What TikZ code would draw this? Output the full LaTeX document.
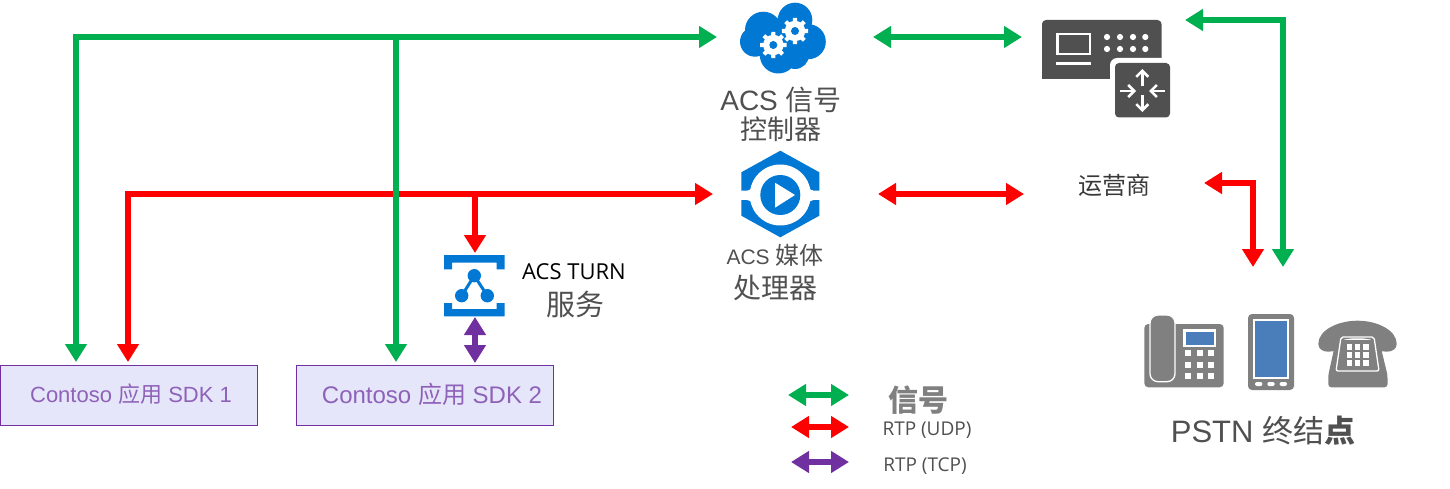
\documentclass[tikz,border=0pt]{standalone}
\usepackage{fontspec}
\usetikzlibrary{arrows.meta,calc}
\setmainfont{Liberation Sans}
\newfontfamily\cjk{Noto Sans CJK SC}
\newfontfamily\opensans{Open Sans}
\newcommand{\zh}[1]{{\cjk #1}}
\newcommand{\fsz}[1]{\fontsize{#1}{#1}\selectfont}
\definecolor{sigc}{HTML}{00B050}
\definecolor{udpc}{HTML}{FF0000}
\definecolor{tcpc}{HTML}{7030A0}
\definecolor{azure}{HTML}{0078D4}
\definecolor{darkic}{HTML}{505050}
\definecolor{greyic}{HTML}{808080}
\definecolor{bluescr}{HTML}{4A7EBB}
\definecolor{boxfill}{HTML}{E6E6FA}
\definecolor{boxtext}{HTML}{8E62B8}
\definecolor{txt}{HTML}{505050}
\tikzset{
  tipa/.tip={Triangle[width=21pt,length=18pt]},
  conn/.style={line width=6pt,line join=miter},
  both/.style={conn,tipa-tipa},
  one/.style={conn,-tipa},
  slot/.style={inner sep=0pt,outer sep=0pt,minimum height=10pt},
  appbox/.style={draw=tcpc,fill=boxfill,line width=1pt,inner sep=0pt,outer sep=0pt,minimum width=257pt,minimum height=60pt,text=boxtext},
  lbl/.style={inner sep=0pt,outer sep=0pt,text=txt,align=center},
  gearpic/.pic={
    \fill[white] (0,0) circle (10.2pt);
    \foreach \a in {0,45,...,315}{\fill[white,rotate=\a] (-2.6pt,0) -- (-2pt,13.2pt) -- (2pt,13.2pt) -- (2.6pt,0) -- cycle;}
    \fill[azure] (0,0) circle (4pt);
  }
}
\begin{document}
\begin{tikzpicture}[x=1pt,y=-1pt]
\useasboundingbox (0,0) rectangle (1450,489);
% anchor slots for connectors
\node[slot,minimum width=156pt] (ctrl) at (795,37) {};
\node[slot,minimum width=165pt] (media) at (795.5,194) {};
\node[slot,minimum width=163pt,minimum height=98pt] (router) at (1103.5,69) {};
\node[slot,minimum width=63pt,minimum height=64pt] (turn) at (475,285) {};
\node[appbox] (app1) at (128.5,395) {\hspace{5pt}\raisebox{3pt}{\fsz{22}Contoso \zh{应用} SDK 1}};
\node[appbox] (app2) at (424.5,395) {\hspace{15pt}\raisebox{3pt}{\fsz{24}Contoso \zh{应用} SDK 2}};
\coordinate (a1g) at (76,362);
\coordinate (a1r) at (128,362);
\coordinate (a2g) at (396,362);
\coordinate (a2p) at (475,363);
\coordinate (j1) at (396,37);
\coordinate (j2) at (475,194);
\coordinate (rttop) at (1185,20);
\coordinate (carL) at (1024,194);
\coordinate (carR) at (1204,183);
\coordinate (pstnR) at (1253,267);
\coordinate (pstnG) at (1283,267);
\coordinate (lg1a) at (788,395);\coordinate (lg1b) at (849,395);
\coordinate (lg2a) at (791,427);\coordinate (lg2b) at (849,427);
\coordinate (lg3a) at (791,462);\coordinate (lg3b) at (849,462);
% connectors
\draw[both,udpc] (media.west) -| (a1r);
\draw[one,udpc] (j2) -- (turn.north);
\draw[both,sigc] (ctrl.west) -| (a1g);
\draw[one,sigc] (j1) -- (a2g);
\draw[both,tcpc] (turn.south) -- (a2p);
\draw[both,sigc] (ctrl.east) -- (ctrl.east -| router.west);
\draw[both,udpc] (media.east) -- (carL);
\draw[both,sigc] (rttop) -| (pstnG);
\draw[both,udpc] (carR) -| (pstnR);
\draw[both,sigc] (lg1a) -- (lg1b);
\draw[both,udpc] (lg2a) -- (lg2b);
\draw[both,tcpc] (lg3a) -- (lg3b);
% cloud icon
\fill[azure] (763.3,30) circle (18.3) (795,20) circle (17.3) (808.3,41.7) circle (17.5)
  (778.3,55) circle (18.5) (795,55) circle (14) (755,41.7) circle (15) (780,38) circle (20);
\pic at (773.3,45) {gearpic};
\pic at (795,31) {gearpic};
% router icon
\fill[darkic,rounded corners=4pt] (1042,79) -- (1042,20) -- (1161.5,20) -- (1161.5,79) -- cycle;
\fill[darkic] (1042,72) rectangle (1060,79.3);
\draw[white,line width=2.5pt] (1057.5,34) rectangle (1090,54);
\fill[white] (1056,62) rectangle (1091,65);
\foreach \x in {1107,1120,1133,1145.3}{\foreach \y in {37,49}{\fill[white] (\x,\y) circle (3.1);}}
\fill[white,rounded corners=7pt] (1110,58) rectangle (1175,122);
\fill[darkic,rounded corners=4pt] (1115,63) rectangle (1170,117.5);
\begin{scope}[white,line width=2.6pt,arrows={-{Straight Barb[length=6pt,width=12pt]}}]
\draw (1142.3,86) -- (1142.3,69);
\draw (1142.3,95) -- (1142.3,112);
\draw (1120,91) -- (1136,91);
\draw (1165,91) -- (1149,91);
\end{scope}
% media icon
\fill[azure] (780.3,150.7) -- (819.3,172.3) -- (819.3,215.7) -- (780.3,237.3) -- (741.3,215.7) -- (741.3,172.3) -- cycle;
\fill[white] (780.3,195) circle (30.5);
\fill[white] (741,190.7) -- (747,190.7) .. controls (752,190.7) and (754,184) .. (757,176) -- (780,195) -- (757,214) .. controls (754,206) and (752,200) .. (747,200) -- (741,200) -- cycle;
\fill[white] (820,190.7) -- (813.6,190.7) .. controls (808.6,190.7) and (806.6,184) .. (803.6,176) -- (780.6,195) -- (803.6,214) .. controls (806.6,206) and (808.6,200) .. (813.6,200) -- (820,200) -- cycle;
\fill[azure] (780.3,195) circle (20);
\fill[white] (775,182.7) -- (795,195) -- (775,207.7) -- cycle;
% turn icon
\fill[azure] (444,255) rectangle (504.7,262.7) (444,255) rectangle (452,269.3) (496.7,255) rectangle (504.7,269.3);
\fill[azure] (444,309) rectangle (504.7,316.3) (444,303) rectangle (452,316.3) (496.7,303) rectangle (504.7,316.3);
\draw[azure,line width=3pt] (461.7,295.7) -- (474.3,275.7) -- (487.3,295.7);
\fill[azure] (474.3,275.7) circle (6.7) (461.7,295.7) circle (6.7) (487.3,295.7) circle (6.7);
% desk phone
\fill[greyic,rounded corners=4pt] (1144.3,324) rectangle (1223.7,387.3);
\draw[white,line width=1.3pt,fill=greyic,rounded corners=8pt] (1150,315) rectangle (1175,381.7);
\fill[white] (1183.3,329.3) rectangle (1216,346.7);
\fill[bluescr] (1185.5,331.5) rectangle (1213.8,344.5);
\foreach \x in {1188.3,1199.7,1211}{\foreach \y in {353.3,365,376}{\fill[white] (\x-3,\y-3) rectangle (\x+3,\y+3);}}
% mobile
\fill[greyic,rounded corners=4pt] (1248,314) rectangle (1294,390);
\fill[white] (1253,319) rectangle (1289,378.7);
\fill[bluescr] (1255,321) rectangle (1287,376.7);
\foreach \x in {1258.7,1271,1283.3}{\fill[white,rounded corners=2pt] (\x-3.7,382) rectangle (\x+3.7,386);}
% rotary phone
\fill[greyic] (1318.3,344) .. controls (1318.3,330) and (1338,320.7) .. (1357.5,320.7) .. controls (1377,320.7) and (1396.7,330) .. (1396.7,344)
  .. controls (1396.7,349) and (1392,351.7) .. (1387,351.7) .. controls (1380,351.7) and (1376,350) .. (1376,342)
  .. controls (1372,337) and (1343,337) .. (1339,342) .. controls (1339,350) and (1335,351.7) .. (1328,351.7) .. controls (1323,351.7) and (1318.3,349) .. (1318.3,344) -- cycle;
\fill[greyic,rounded corners=3pt] (1336,340) -- (1379,340) -- (1387.5,375) -- (1387.5,387.3) -- (1328.3,387.3) -- (1328.3,375) -- cycle;
\draw[white,line width=1.3pt,rounded corners=2pt] (1341,337) -- (1374,337) -- (1379,371) -- (1336,371) -- cycle;
\foreach \x in {1349.3,1357.5,1365.7}{\foreach \y in {347,355,363}{\fill[white] (\x-2.8,\y-2.8) rectangle (\x+2.8,\y+2.8);}}
% labels
\node[lbl,font=\fsz{28}] (ctrlA) at (781,100) {ACS \zh{信号}};
\node[lbl,font=\fsz{27}] (ctrlB) at (781,129) {\zh{控制器}};
\node[lbl,font=\fsz{21}] (mediaA) at (775,255) {ACS \fsz{24}\zh{媒体}};
\node[lbl,font=\fsz{28}] (mediaB) at (775,288) {\zh{处理器}};
\node[lbl,text=black,font=\fsz{22}\opensans] (turnA) at (574,272) {ACS TURN};
\node[lbl,font=\fsz{29}] (turnB) at (575,304) {\zh{服务}};
\node[lbl,text=darkic!70!black,font=\fsz{24}] (carrier) at (1114,185) {\zh{运营商}};
\node[lbl,font=\fsz{31}] (pstn) at (1263,431) {PSTN \zh{终结}{\cjk\bfseries 点}};
\node[lbl,text=greyic,font=\fsz{30}] (leg1) at (918,400) {{\cjk\bfseries 信号}};
\node[lbl,text=darkic,font=\fsz{19}\opensans] (leg2) at (927,430) {RTP (UDP)};
\node[lbl,text=darkic,font=\fsz{19}\opensans] (leg3) at (925,466) {RTP (TCP)};
\end{tikzpicture}
\end{document}
